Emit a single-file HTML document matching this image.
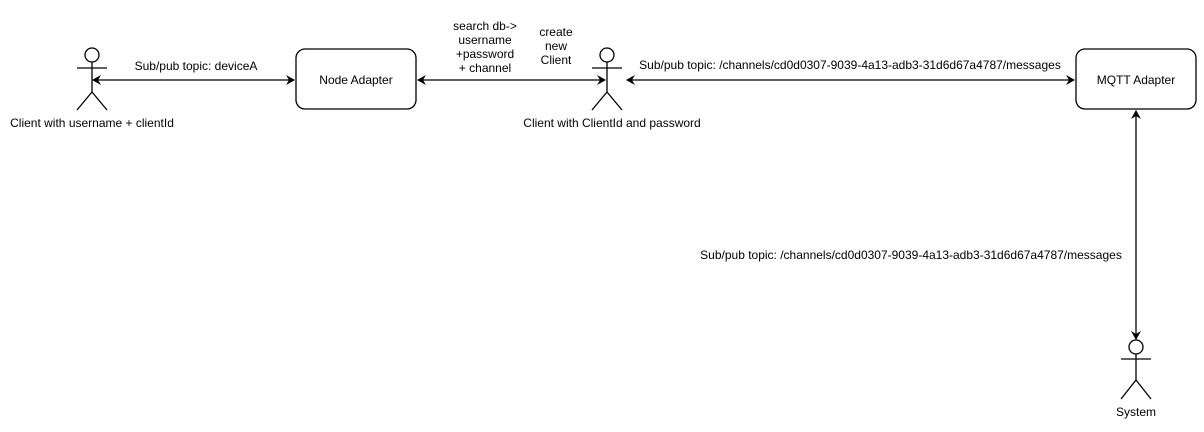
<!DOCTYPE html>
<html><head><style>
body{margin:0;background:#fff;}
svg{display:block;}
text{font-family:"Liberation Sans",Arial,sans-serif;font-size:12px;fill:#000;}
</style></head><body>
<svg width="1204" height="432" viewBox="0 0 1204 432" xmlns="http://www.w3.org/2000/svg">
<defs>
<marker id="a" markerWidth="10" markerHeight="10" refX="8" refY="5" orient="auto-start-reverse" markerUnits="userSpaceOnUse">
<path d="M0,0 L9,5 L0,10 L3,5 Z" fill="#000"/>
</marker>
</defs>
<g stroke="#000" stroke-width="1.3" fill="none">
<circle cx="92" cy="55" r="7" fill="#fff"/>
<line x1="92" y1="62" x2="92" y2="92"/>
<line x1="77" y1="68" x2="107" y2="68"/>
<line x1="92" y1="92" x2="77" y2="110"/>
<line x1="92" y1="92" x2="107" y2="110"/>
<circle cx="607" cy="55" r="7" fill="#fff"/>
<line x1="607" y1="62" x2="607" y2="92"/>
<line x1="592" y1="68" x2="622" y2="68"/>
<line x1="607" y1="92" x2="592" y2="110"/>
<line x1="607" y1="92" x2="622" y2="110"/>
<circle cx="1136" cy="347" r="7" fill="#fff"/>
<line x1="1136" y1="354" x2="1136" y2="380"/>
<line x1="1121" y1="359" x2="1151" y2="359"/>
<line x1="1136" y1="380" x2="1121" y2="399"/>
<line x1="1136" y1="380" x2="1151" y2="399"/>
<rect x="296" y="49" width="120" height="60" rx="9" fill="#fff"/>
<rect x="1076" y="49" width="120" height="60" rx="9" fill="#fff"/>
<line x1="93" y1="80" x2="294" y2="80" marker-start="url(#a)" marker-end="url(#a)"/>
<line x1="418" y1="80" x2="605" y2="80" marker-start="url(#a)" marker-end="url(#a)"/>
<line x1="627" y1="80" x2="1074" y2="80" marker-start="url(#a)" marker-end="url(#a)"/>
<line x1="1136" y1="111" x2="1136" y2="339" marker-start="url(#a)" marker-end="url(#a)"/>
</g>
<text x="92" y="127" text-anchor="middle">Client with username + clientId</text>
<text x="612" y="127" text-anchor="middle">Client with ClientId and password</text>
<text x="1136" y="416" text-anchor="middle">System</text>
<text x="356" y="84" text-anchor="middle">Node Adapter</text>
<text x="1136" y="84" text-anchor="middle">MQTT Adapter</text>
<text x="196" y="70" text-anchor="middle">Sub/pub topic: deviceA</text>
<text x="485" y="30" text-anchor="middle">search db-&gt;</text>
<text x="485" y="44" text-anchor="middle">username</text>
<text x="485" y="58" text-anchor="middle">+password</text>
<text x="485" y="72" text-anchor="middle">+ channel</text>
<text x="556" y="36" text-anchor="middle">create</text>
<text x="556" y="50" text-anchor="middle">new</text>
<text x="556" y="64" text-anchor="middle">Client</text>
<text x="850" y="69" text-anchor="middle">Sub/pub topic: /channels/cd0d0307-9039-4a13-adb3-31d6d67a4787/messages</text>
<text x="911" y="259" text-anchor="middle">Sub/pub topic: /channels/cd0d0307-9039-4a13-adb3-31d6d67a4787/messages</text>
</svg>
</body></html>
